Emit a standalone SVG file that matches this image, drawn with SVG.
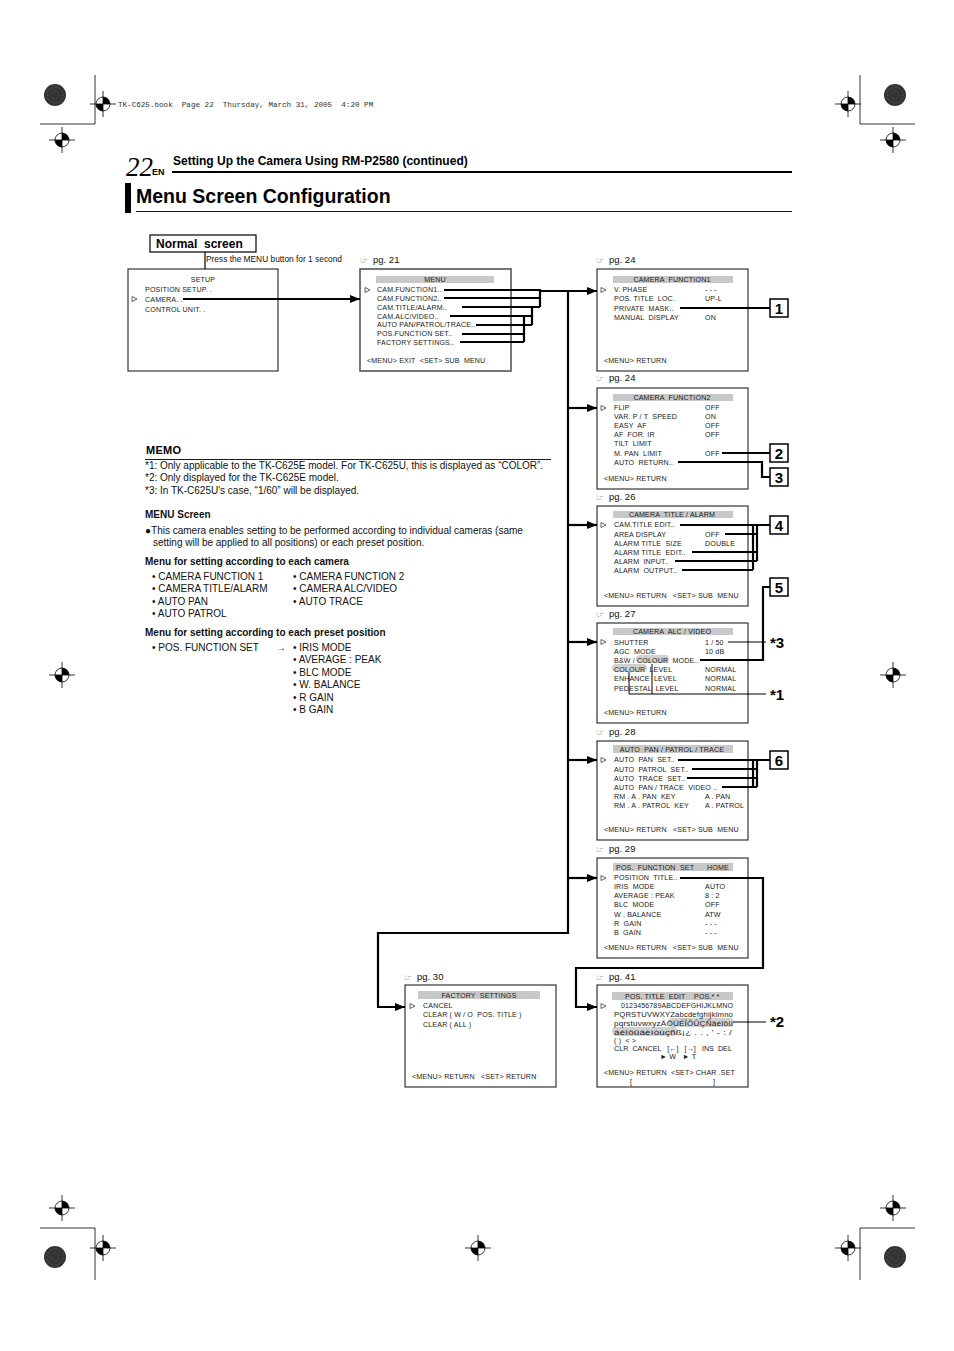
<svg xmlns="http://www.w3.org/2000/svg" width="954" height="1351" viewBox="0 0 954 1351" xml:space="preserve">
<style>
text{white-space:pre}
.m{font-family:"Liberation Sans",Arial,sans-serif;font-size:7.1px;fill:#222;letter-spacing:0.15px}
.mc{font-family:"Liberation Sans",Arial,sans-serif;font-size:7.1px;fill:#222;text-anchor:middle;letter-spacing:0.15px}
.b{font-family:"Liberation Sans",Arial,sans-serif;font-size:10px;fill:#111}
.bb{font-family:"Liberation Sans",Arial,sans-serif;font-size:10px;font-weight:bold;fill:#111}
.pg{font-family:"Liberation Sans",Arial,sans-serif;font-size:9.5px;fill:#111}
.hand{font-family:"DejaVu Sans",sans-serif;font-size:9px;fill:#333}
.num{font-family:"Liberation Sans",Arial,sans-serif;font-size:15px;font-weight:bold;fill:#000;text-anchor:middle}
.star{font-family:"Liberation Sans",Arial,sans-serif;font-size:15px;font-weight:bold;fill:#000}
.box{fill:#fff;stroke:#222;stroke-width:1.1}
.hd{fill:#c8c8c8}
.nb{fill:#fff;stroke:#000;stroke-width:1.5}
.th{fill:none;stroke:#000;stroke-width:2.2}
.tn{fill:none;stroke:#000;stroke-width:1}
.cm{fill:none;stroke:#000;stroke-width:0.8}
.sel{fill:none;stroke:#222;stroke-width:0.7}
.hl{fill:#d0d0d0}
</style>
<defs>
<marker id="ah" markerWidth="10" markerHeight="8" refX="10" refY="4" orient="auto" markerUnits="userSpaceOnUse">
<path d="M0,0 L10,4 L0,8 z" fill="#000"/>
</marker>
<g id="tgt">
<circle cx="0" cy="0" r="7" fill="none" stroke="#000" stroke-width="0.8"/>
<path d="M-13,0 H13 M0,-13 V13" stroke="#000" stroke-width="0.8"/>
<path d="M0,0 L0,-7 A7,7 0 0 1 7,0 z M0,0 L0,7 A7,7 0 0 1 -7,0 z" fill="#000"/>
</g>
<g id="dark">
<circle cx="0" cy="0" r="11" fill="#333"/>
<circle cx="0" cy="0" r="8" fill="none" stroke="#777" stroke-width="0.6" stroke-dasharray="1 1"/>
<circle cx="0" cy="0" r="4" fill="none" stroke="#666" stroke-width="0.6" stroke-dasharray="1 1"/>
</g>
<path id="selm" d="M0,-2.5 L5,0 L0,2.5 z"/>
</defs>
<rect width="954" height="1351" fill="#fff"/>

<!-- crop marks -->
<g id="cropmarks">
<use href="#dark" x="55" y="95"/>
<use href="#tgt" x="103" y="104"/>
<use href="#tgt" x="62" y="140"/>
<path class="cm" d="M40,124 H95 M95,75 V124"/>
<use href="#dark" x="895" y="95"/>
<use href="#tgt" x="848" y="104"/>
<use href="#tgt" x="893" y="140"/>
<path class="cm" d="M860,124 H915 M860,75 V124"/>
<use href="#tgt" x="62" y="675"/>
<use href="#tgt" x="893" y="675"/>
<use href="#dark" x="55" y="1257"/>
<use href="#tgt" x="103" y="1248"/>
<use href="#tgt" x="62" y="1208"/>
<path class="cm" d="M40,1228 H95 M95,1228 V1280"/>
<use href="#dark" x="895" y="1257"/>
<use href="#tgt" x="848" y="1248"/>
<use href="#tgt" x="893" y="1208"/>
<path class="cm" d="M860,1228 H915 M860,1228 V1280"/>
<use href="#tgt" x="478" y="1248"/>
<text x="118" y="107" style="font-family:'Liberation Mono','DejaVu Sans Mono',monospace;font-size:7.6px;fill:#333">TK-C625.book  Page 22  Thursday, March 31, 2005  4:20 PM</text>
</g>

<!-- header -->
<g id="header">
<text x="126" y="176" style="font-family:'Liberation Serif',serif;font-style:italic;font-size:27px;fill:#000">22</text>
<text x="152" y="175" style="font-family:'Liberation Sans',sans-serif;font-weight:bold;font-size:9px;fill:#000">EN</text>
<text x="173" y="165" style="font-family:'Liberation Sans',sans-serif;font-weight:bold;font-size:12px;fill:#000">Setting Up the Camera Using RM-P2580 (continued)</text>
<rect x="172" y="171" width="620" height="2" fill="#000"/>
<rect x="125" y="183" width="6" height="30" fill="#000"/>
<text x="136" y="203" style="font-family:'Liberation Sans',sans-serif;font-weight:bold;font-size:19.5px;fill:#000">Menu Screen Configuration</text>
<rect x="136" y="211" width="656" height="0.9" fill="#000"/>
</g>

<!-- normal screen -->
<g id="normal">
<rect x="150" y="235" width="106" height="17" fill="#fff" stroke="#000" stroke-width="1.2"/>
<text x="156" y="248" style="font-family:'Liberation Sans',sans-serif;font-weight:bold;font-size:12px;fill:#000">Normal  screen</text>
<text x="206" y="262" textLength="136" lengthAdjust="spacingAndGlyphs" style="font-family:'Liberation Sans',sans-serif;font-size:9px;fill:#111">Press the MENU button for 1 second</text>
</g>

<!-- SETUP -->
<g id="setup">
<rect class="box" x="128" y="269" width="150" height="102"/>
<text class="mc" x="203" y="282">SETUP</text>
<text class="m" x="145" y="292">POSITION SETUP. .</text>
<use href="#selm" x="132" y="299" class="sel"/>
<text class="m" x="145" y="302">CAMERA. .</text>
<text class="m" x="145" y="312">CONTROL UNIT. .</text>
</g>

<!-- MENU -->
<g id="menu">
<text class="hand" x="360" y="263">☞</text><text class="pg" x="373" y="263">pg. 21</text>
<rect x="360" y="269" width="151" height="102" fill="#fff" stroke="#555" stroke-width="1.6"/>
<rect class="hd" x="376" y="276" width="118" height="7"/>
<text class="mc" x="435" y="282">MENU</text>
<use href="#selm" x="365" y="290" class="sel"/>
<text class="m" x="377" y="292">CAM.FUNCTION1..</text>
<text class="m" x="377" y="301">CAM.FUNCTION2..</text>
<text class="m" x="377" y="310">CAM.TITLE/ALARM..</text>
<text class="m" x="377" y="319">CAM.ALC/VIDEO..</text>
<text class="m" x="377" y="327">AUTO PAN/PATROL/TRACE..</text>
<text class="m" x="377" y="336">POS.FUNCTION SET..</text>
<text class="m" x="377" y="345">FACTORY SETTINGS..</text>
<text class="m" x="367" y="363">&lt;MENU&gt; EXIT  &lt;SET&gt; SUB  MENU</text>
</g>

<!-- CAMERA FUNCTION1 -->
<g id="cf1">
<text class="hand" x="596" y="263">☞</text><text class="pg" x="609" y="263">pg. 24</text>
<rect class="box" x="597" y="269" width="151" height="102"/>
<rect class="hd" x="613" y="276" width="120" height="7"/>
<text class="mc" x="672" y="282">CAMERA  FUNCTION1</text>
<use href="#selm" x="601" y="290" class="sel"/>
<text class="m" x="614" y="292">V. PHASE</text><text class="m" x="705" y="292">- - -</text>
<text class="m" x="614" y="301">POS. TITLE  LOC.</text><text class="m" x="705" y="301">UP-L</text>
<text class="m" x="614" y="311">PRIVATE  MASK..</text>
<text class="m" x="614" y="320">MANUAL  DISPLAY</text><text class="m" x="705" y="320">ON</text>
<text class="m" x="604" y="363">&lt;MENU&gt; RETURN</text>
</g>

<!-- CAMERA FUNCTION2 -->
<g id="cf2">
<text class="hand" x="596" y="381">☞</text><text class="pg" x="609" y="381">pg. 24</text>
<rect class="box" x="597" y="388" width="151" height="101"/>
<rect class="hd" x="613" y="394" width="120" height="7"/>
<text class="mc" x="672" y="400">CAMERA  FUNCTION2</text>
<use href="#selm" x="601" y="408" class="sel"/>
<text class="m" x="614" y="410">FLIP</text><text class="m" x="705" y="410">OFF</text>
<text class="m" x="614" y="419">VAR. P / T  SPEED</text><text class="m" x="705" y="419">ON</text>
<text class="m" x="614" y="428">EASY  AF</text><text class="m" x="705" y="428">OFF</text>
<text class="m" x="614" y="437">AF  FOR  IR</text><text class="m" x="705" y="437">OFF</text>
<text class="m" x="614" y="446">TILT  LIMIT</text>
<text class="m" x="614" y="456">M. PAN  LIMIT</text><text class="m" x="705" y="456">OFF</text>
<text class="m" x="614" y="465">AUTO  RETURN..</text>
<text class="m" x="604" y="481">&lt;MENU&gt; RETURN</text>
</g>

<!-- CAMERA TITLE / ALARM -->
<g id="cta">
<text class="hand" x="596" y="500">☞</text><text class="pg" x="609" y="500">pg. 26</text>
<rect class="box" x="597" y="506" width="151" height="100"/>
<rect class="hd" x="613" y="511" width="120" height="7"/>
<text class="mc" x="672" y="517">CAMERA  TITLE / ALARM</text>
<use href="#selm" x="601" y="525" class="sel"/>
<text class="m" x="614" y="527">CAM.TITLE EDIT..</text>
<text class="m" x="614" y="537">AREA DISPLAY</text><text class="m" x="705" y="537">OFF</text>
<text class="m" x="614" y="546">ALARM TITLE  SIZE</text><text class="m" x="705" y="546">DOUBLE</text>
<text class="m" x="614" y="555">ALARM TITLE  EDIT..</text>
<text class="m" x="614" y="564">ALARM  INPUT..</text>
<text class="m" x="614" y="573">ALARM  OUTPUT..</text>
<text class="m" x="604" y="598">&lt;MENU&gt; RETURN   &lt;SET&gt; SUB  MENU</text>
</g>

<!-- CAMERA ALC / VIDEO -->
<g id="calc">
<text class="hand" x="596" y="617">☞</text><text class="pg" x="609" y="617">pg. 27</text>
<rect class="box" x="597" y="623" width="151" height="100"/>
<rect class="hd" x="613" y="628" width="120" height="7"/>
<text class="mc" x="672" y="634">CAMERA  ALC / VIDEO</text>
<rect class="hl" x="636" y="655" width="33" height="8" rx="4"/>
<rect class="hl" x="612" y="664" width="35" height="8" rx="4"/>
<use href="#selm" x="601" y="642" class="sel"/>
<text class="m" x="614" y="645">SHUTTER</text><text class="m" x="705" y="645">1 / 50</text>
<text class="m" x="614" y="654">AGC  MODE</text><text class="m" x="705" y="654">10 dB</text>
<text class="m" x="614" y="663">B&amp;W / COLOUR  MODE..</text>
<text class="m" x="614" y="672">COLOUR  LEVEL</text><text class="m" x="705" y="672">NORMAL</text>
<text class="m" x="614" y="681">ENHANCE  LEVEL</text><text class="m" x="705" y="681">NORMAL</text>
<text class="m" x="614" y="691">PEDESTAL  LEVEL</text><text class="m" x="705" y="691">NORMAL</text>
<text class="m" x="604" y="715">&lt;MENU&gt; RETURN</text>
</g>

<!-- AUTO PAN / PATROL / TRACE -->
<g id="apt">
<text class="hand" x="596" y="735">☞</text><text class="pg" x="609" y="735">pg. 28</text>
<rect class="box" x="597" y="741" width="151" height="99"/>
<rect class="hd" x="613" y="745" width="120" height="8"/>
<text class="mc" x="672" y="752">AUTO  PAN / PATROL / TRACE</text>
<use href="#selm" x="601" y="760" class="sel"/>
<text class="m" x="614" y="762">AUTO  PAN  SET..</text>
<text class="m" x="614" y="772">AUTO  PATROL  SET..</text>
<text class="m" x="614" y="781">AUTO  TRACE  SET..</text>
<text class="m" x="614" y="790">AUTO  PAN / TRACE  VIDEO ..</text>
<text class="m" x="614" y="799">RM . A . PAN  KEY</text><text class="m" x="705" y="799">A . PAN</text>
<text class="m" x="614" y="808">RM . A . PATROL  KEY</text><text class="m" x="705" y="808">A . PATROL</text>
<text class="m" x="604" y="832">&lt;MENU&gt; RETURN   &lt;SET&gt; SUB  MENU</text>
</g>

<!-- POS. FUNCTION SET -->
<g id="pfs">
<text class="hand" x="596" y="852">☞</text><text class="pg" x="609" y="852">pg. 29</text>
<rect class="box" x="597" y="858" width="151" height="100"/>
<rect class="hd" x="613" y="863" width="120" height="8"/>
<text class="m" x="616" y="870">POS.  FUNCTION  SET</text><text class="m" x="707" y="870">HOME</text>
<use href="#selm" x="601" y="878" class="sel"/>
<text class="m" x="614" y="880">POSITION  TITLE..</text>
<text class="m" x="614" y="889">IRIS  MODE</text><text class="m" x="705" y="889">AUTO</text>
<text class="m" x="614" y="898">AVERAGE : PEAK</text><text class="m" x="705" y="898">8 : 2</text>
<text class="m" x="614" y="907">BLC  MODE</text><text class="m" x="705" y="907">OFF</text>
<text class="m" x="614" y="917">W . BALANCE</text><text class="m" x="705" y="917">ATW</text>
<text class="m" x="614" y="926">R  GAIN</text><text class="m" x="705" y="926">- - -</text>
<text class="m" x="614" y="935">B  GAIN</text><text class="m" x="705" y="935">- - -</text>
<text class="m" x="604" y="950">&lt;MENU&gt; RETURN   &lt;SET&gt; SUB  MENU</text>
</g>

<!-- FACTORY SETTINGS -->
<g id="fs">
<text class="hand" x="404" y="980">☞</text><text class="pg" x="417" y="980">pg. 30</text>
<rect class="box" x="405" y="985" width="151" height="102"/>
<rect class="hd" x="418" y="991" width="122" height="8"/>
<text class="mc" x="479" y="998">FACTORY  SETTINGS</text>
<use href="#selm" x="410" y="1006" class="sel"/>
<text class="m" x="423" y="1008">CANCEL</text>
<text class="m" x="423" y="1017">CLEAR ( W / O  POS. TITLE )</text>
<text class="m" x="423" y="1027">CLEAR ( ALL )</text>
<text class="m" x="412" y="1079">&lt;MENU&gt; RETURN   &lt;SET&gt; RETURN</text>
</g>

<!-- POS. TITLE EDIT -->
<g id="pte">
<text class="hand" x="596" y="980">☞</text><text class="pg" x="609" y="980">pg. 41</text>
<rect class="box" x="597" y="985" width="151" height="102"/>
<rect class="hd" x="612" y="992" width="121" height="8"/>
<text class="m" x="625" y="999">POS. TITLE  EDIT</text><text class="m" x="694" y="999">POS.* *</text>
<rect class="hl" x="668" y="1018" width="66" height="9" rx="4.5"/>
<rect class="hl" x="612" y="1027" width="66" height="9" rx="4.5"/>
<use href="#selm" x="601" y="1006" class="sel"/>
<text class="m" x="621" y="1008" textLength="112" lengthAdjust="spacingAndGlyphs">0123456789ABCDEFGHIJKLMNO</text>
<text class="m" x="614" y="1017" textLength="119" lengthAdjust="spacingAndGlyphs">PQRSTUVWXYZabcdefghijklmno</text>
<text class="m" x="614" y="1026" textLength="119" lengthAdjust="spacingAndGlyphs">pqrstuvwxyzÄÖÜÉÎÔÛÇÑäéîöü</text>
<text class="m" x="614" y="1035" textLength="118" lengthAdjust="spacingAndGlyphs">áèîôûàèìòùçñß¡¿ . . , ' - : /</text>
<text class="m" x="614" y="1043">( )  &lt; &gt;</text>
<text class="m" x="614" y="1051" textLength="118" lengthAdjust="spacing">CLR  CANCEL   [←]   [→]   INS  DEL</text>
<text class="m" x="660" y="1059">► W   ► T</text>
<text class="m" x="604" y="1075">&lt;MENU&gt; RETURN  &lt;SET&gt; CHAR .SET</text>
<text class="m" x="630" y="1084">[</text><text class="m" x="713" y="1084">]</text>
</g>

<!-- number labels -->
<g id="labels">
<rect class="nb" x="770" y="299" width="18" height="18"/><text class="num" x="779" y="314">1</text>
<rect class="nb" x="770" y="444" width="18" height="18"/><text class="num" x="779" y="459">2</text>
<rect class="nb" x="770" y="468" width="18" height="18"/><text class="num" x="779" y="483">3</text>
<rect class="nb" x="770" y="516" width="18" height="18"/><text class="num" x="779" y="531">4</text>
<rect class="nb" x="770" y="578" width="18" height="18"/><text class="num" x="779" y="593">5</text>
<rect class="nb" x="770" y="751" width="18" height="18"/><text class="num" x="779" y="766">6</text>
<text class="star" x="770" y="648">*3</text>
<text class="star" x="770" y="700">*1</text>
<text class="star" x="770" y="1027">*2</text>
</g>

<!-- connectors -->
<g id="connectors">
<line class="th" x1="205" y1="252" x2="205" y2="269" style="stroke-width:1.2"/>
<path class="th" d="M183,299 H360" marker-end="url(#ah)"/>
<path class="th" d="M444,290 H540"/>
<path class="th" d="M444,298 H540"/>
<path class="th" d="M462,307 H540"/>
<path class="th" d="M450,316 H532"/>
<path class="th" d="M476,325 H532"/>
<path class="th" d="M462,334 H524"/>
<path class="th" d="M460,342 H524"/>
<path class="th" d="M540,289 V307 M532,307 V325 M524,316 V342"/>
<path class="th" d="M540,291 H597" marker-end="url(#ah)"/>
<path class="th" d="M568,291 V933 H378 V1007 H405" marker-end="url(#ah)"/>
<path class="th" d="M568,408 H597" marker-end="url(#ah)"/>
<path class="th" d="M568,525 H597" marker-end="url(#ah)"/>
<path class="th" d="M568,642 H597" marker-end="url(#ah)"/>
<path class="th" d="M568,760 H597" marker-end="url(#ah)"/>
<path class="th" d="M568,878 H597" marker-end="url(#ah)"/>
<path class="th" d="M680,308 H770"/>
<path class="th" d="M722,453 H770"/>
<path class="th" d="M678,462 H762 V477 H770"/>
<path class="th" d="M680,525 H770"/>
<path class="th" d="M725,534 H757 M692,552 H757 M675,561 H757 M682,570 H753 M757,525 V561 M753,525 V570"/>
<path class="th" d="M770,587 H763 V660 H700"/>
<path class="tn" d="M728,642 H766"/>
<path class="tn" d="M629,672 V694 H766 M652,664 V694"/>
<path class="th" d="M678,760 H770"/>
<path class="th" d="M692,769 H757 M687,778 H757 M722,787 H757 M757,760 V787 M753,760 V787"/>
<path class="th" d="M680,878 H763 V968 H576 V1007 H597" marker-end="url(#ah)"/>
<path class="tn" d="M733,1022 H766"/>
</g>

<!-- memo -->
<g id="memo">
<text x="146" y="454" style="font-family:'Liberation Sans',sans-serif;font-weight:bold;font-size:11px;fill:#000;letter-spacing:0.3px">MEMO</text>
<rect x="145" y="459" width="406" height="0.9" fill="#000"/>
<text class="b" x="145" y="469">*1: Only applicable to the TK-C625E model. For TK-C625U, this is displayed as “COLOR”.</text>
<text class="b" x="145" y="481">*2: Only displayed for the TK-C625E model.</text>
<text class="b" x="145" y="494">*3: In TK-C625U's case, “1/60” will be displayed.</text>
<text class="bb" x="145" y="518">MENU Screen</text>
<text class="b" x="145" y="534">●This camera enables setting to be performed according to individual cameras (same</text>
<text class="b" x="153" y="546">setting will be applied to all positions) or each preset position.</text>
<text class="bb" x="145" y="565">Menu for setting according to each camera</text>
<text class="b" x="152" y="580">• CAMERA FUNCTION 1</text><text class="b" x="293" y="580">• CAMERA FUNCTION 2</text>
<text class="b" x="152" y="592">• CAMERA TITLE/ALARM</text><text class="b" x="293" y="592">• CAMERA ALC/VIDEO</text>
<text class="b" x="152" y="605">• AUTO PAN</text><text class="b" x="293" y="605">• AUTO TRACE</text>
<text class="b" x="152" y="617">• AUTO PATROL</text>
<text class="bb" x="145" y="636">Menu for setting according to each preset position</text>
<text class="b" x="152" y="651">• POS. FUNCTION SET</text><text class="b" x="276" y="651">→</text>
<text class="b" x="293" y="651">• IRIS MODE</text>
<text class="b" x="293" y="663">• AVERAGE : PEAK</text>
<text class="b" x="293" y="676">• BLC MODE</text>
<text class="b" x="293" y="688">• W. BALANCE</text>
<text class="b" x="293" y="701">• R GAIN</text>
<text class="b" x="293" y="713">• B GAIN</text>
</g>
</svg>
